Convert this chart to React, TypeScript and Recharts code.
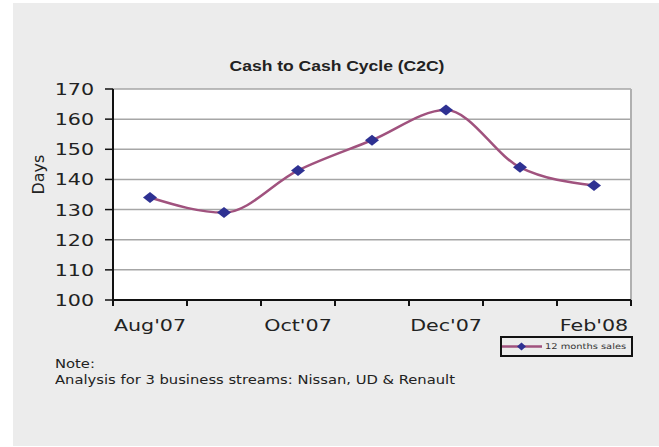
import React from 'react';
import { LineChart, Line, XAxis, YAxis, CartesianGrid, ReferenceLine, Legend } from 'recharts';

// values
const months = ["Aug'07", "Sep'07", "Oct'07", "Nov'07", "Dec'07", "Jan'08", "Feb'08"];
const days = [134, 129, 143, 153, 163, 144, 138];
const yTicks = [100, 110, 120, 130, 140, 150, 160, 170];
const seriesName = '12 months sales';

const data = months.map((m, i) => ({ x: i + 0.5, month: m, days: days[i] }));
const xTicks = Array.from({ length: months.length * 2 + 1 }, (_, i) => i / 2);

const SX = 1.25; // reference text is stretched horizontally
const LINE = '#a0527e';
const MARK = '#2e3192';
const FONT = '"DejaVu Sans", Verdana, sans-serif';

const Diamond = ({ cx, cy }: { cx: number; cy: number }) => (
  <polygon
    points={`${cx - 7},${cy} ${cx},${cy - 5.5} ${cx + 7},${cy} ${cx},${cy + 5.5}`}
    fill={MARK}
  />
);

const XTick = (props: any) => {
  const { x, y, payload } = props;
  const v = payload.value;
  if (Number.isInteger(v)) {
    return <line x1={x} x2={x} y1={y} y2={y + 6} stroke="#111" strokeWidth={2} />;
  }
  const i = Math.floor(v);
  if (i % 2 !== 0) return <g />;
  return (
    <g transform={`translate(${x},${y + 31}) scale(${SX},1)`}>
      <text textAnchor="middle" fontSize={16.5} fill="#222" fontFamily={FONT}>
        {months[i]}
      </text>
    </g>
  );
};

const YTick = (props: any) => {
  const { x, y, payload } = props;
  return (
    <g>
      <line x1={x - 8} x2={x} y1={y} y2={y} stroke="#111" strokeWidth={1.5} />
      <g transform={`translate(${x - 19},${y + 6}) scale(${SX},1)`}>
        <text textAnchor="end" fontSize={16.5} fill="#222" fontFamily={FONT}>
          {payload.value}
        </text>
      </g>
    </g>
  );
};

const LegendBox = () => (
  <div
    style={{
      boxSizing: 'border-box',
      width: 133,
      height: 21,
      border: '2px solid #111',
      display: 'flex',
      alignItems: 'center',
      background: '#ececec',
    }}
  >
    <svg width={40} height={17} style={{ display: 'block' }}>
      <line x1={0} x2={40} y1={8.5} y2={8.5} stroke={LINE} strokeWidth={2.5} />
      <polygon points="15,8.5 19.5,4.5 24,8.5 19.5,12.5" fill={MARK} />
    </svg>
    <span
      style={{
        marginLeft: 3,
        fontFamily: FONT,
        fontSize: 7.9,
        color: '#333',
        transform: `scaleX(${SX})`,
        transformOrigin: 'left center',
        whiteSpace: 'nowrap',
      }}
    >
      {seriesName}
    </span>
  </div>
);

export default function App() {
  return (
    <div style={{ position: 'absolute', left: 0, top: 0, width: 659, height: 447, background: '#fff' }}>
      <div style={{ position: 'absolute', left: 13, top: 3, width: 646, height: 443, background: '#ececec' }} />
      <div
        style={{
          position: 'absolute',
          left: 0,
          width: 674,
          top: 58,
          textAlign: 'center',
          fontFamily: '"Liberation Sans", Arial, sans-serif',
          fontWeight: 'bold',
          fontSize: 14,
          color: '#222',
          transform: `scaleX(${SX})`,
          transformOrigin: '337px 0',
          lineHeight: '16px',
        }}
      >
        Cash to Cash Cycle (C2C)
      </div>
      <div style={{ position: 'absolute', left: 0, top: 0 }}>
        <LineChart
          width={659}
          height={447}
          data={data}
          margin={{ top: 89, right: 28, left: 53, bottom: 107 }}
        >
          <CartesianGrid vertical={false} stroke="#a6a6a6" strokeWidth={1.5} fill="#fff" />
          <ReferenceLine x={7} stroke="#b0b0b0" strokeWidth={2} />
          <XAxis
            dataKey="x"
            type="number"
            domain={[0, 7]}
            ticks={xTicks}
            interval={0}
            height={40}
            tickSize={0}
            tickMargin={0}
            tickLine={false}
            tick={<XTick />}
            axisLine={{ stroke: '#111', strokeWidth: 2 }}
          />
          <YAxis
            domain={[100, 170]}
            ticks={yTicks}
            interval={0}
            width={60}
            tickSize={0}
            tickMargin={0}
            tickLine={false}
            tick={<YTick />}
            axisLine={{ stroke: '#111', strokeWidth: 2 }}
            label={{
              value: 'Days',
              angle: -90,
              position: 'insideLeft',
              offset: -15,
              style: { fontFamily: FONT, fontSize: 16, fill: '#222' },
            }}
          />
          <Legend
            layout="vertical"
            align="center"
            verticalAlign="middle"
            content={<LegendBox />}
            wrapperStyle={{ position: 'absolute', left: 500, top: 336, width: 133, height: 21, bottom: 'auto', right: 'auto' }}
          />
          <Line
            type="monotone"
            dataKey="days"
            name={seriesName}
            stroke={LINE}
            strokeWidth={2.5}
            dot={(p: any) => <Diamond key={`d${p.index}`} cx={p.cx} cy={p.cy} />}
            activeDot={false}
            isAnimationActive={false}
          />
        </LineChart>
      </div>
      <div
        style={{
          position: 'absolute',
          left: 55,
          top: 356,
          fontFamily: FONT,
          fontSize: 11.8,
          lineHeight: '16px',
          color: '#222',
          transform: `scaleX(${SX})`,
          transformOrigin: 'left top',
          whiteSpace: 'nowrap',
        }}
      >
        Note:
        <br />
        Analysis for 3 business streams: Nissan, UD &amp; Renault
      </div>
    </div>
  );
}
